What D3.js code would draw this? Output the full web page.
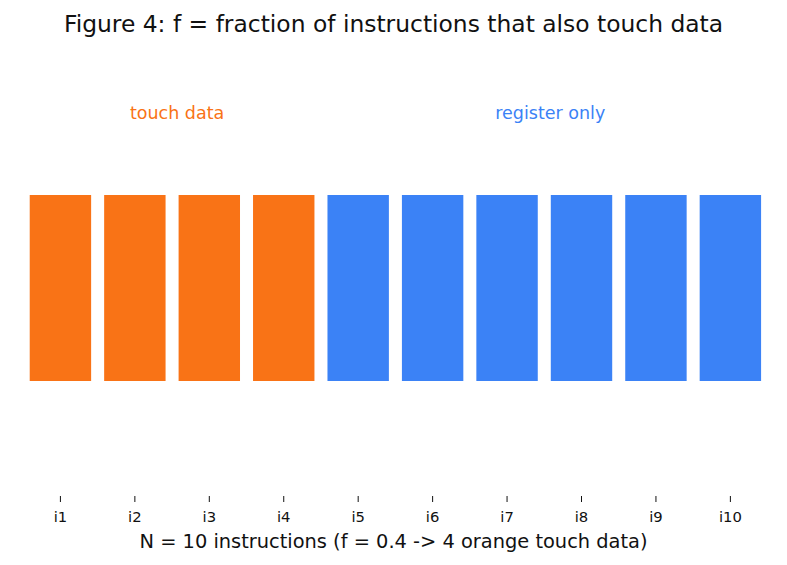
<!DOCTYPE html>
<html lang="en">
<head>
    <meta charset="UTF-8">
    <title>Figure 4</title>
    <script src="https://d3js.org/d3.v7.min.js"></script>
    <style>
        body {
            margin: 0;
            background: #fff;
            font-family: "DejaVu Sans", sans-serif;
        }
    </style>
</head>
<body>
    <div id="chart"></div>

    <script>
        // instructions and whether each one touches data
        const instructions = ["i1", "i2", "i3", "i4", "i5", "i6", "i7", "i8", "i9", "i10"];
        const touchesData = [1, 1, 1, 1, 0, 0, 0, 0, 0, 0];
        const groupLabels = ["touch data", "register only"];
        const fraction = 0.4;

        const width = 787;
        const height = 565;

        const orange = "#F97316";
        const blue = "#3B82F6";

        const svg = d3.select("#chart")
            .append("svg")
            .attr("width", width)
            .attr("height", height);

        // bar band: i1 centre ~60, i10 centre ~730
        const x = d3.scaleBand()
            .domain(instructions)
            .range([23.2, 767.6])
            .paddingInner(0.175)
            .paddingOuter(0.0875);

        const y = d3.scaleLinear()
            .domain([0, 1])
            .range([381, 195]);

        svg.append("text")
            .attr("x", width / 2)
            .attr("y", 32)
            .attr("text-anchor", "middle")
            .attr("font-size", 23.4)
            .attr("fill", "#111")
            .text("Figure 4: f = fraction of instructions that also touch data");

        const data = instructions.map((d, i) => ({ name: d, touch: touchesData[i] }));

        svg.append("g")
            .selectAll("rect")
            .data(data)
            .join("rect")
            .attr("x", d => x(d.name))
            .attr("width", x.bandwidth())
            .attr("y", y(1))
            .attr("height", y(0) - y(1))
            .attr("fill", d => d.touch ? orange : blue);

        // group labels centred over their bars
        const nTouch = d3.sum(touchesData);
        const centre = (a, b) => (x(instructions[a]) + x(instructions[b]) + x.bandwidth()) / 2;
        svg.append("text")
            .attr("x", centre(0, nTouch - 1) + 5)
            .attr("y", 119)
            .attr("text-anchor", "middle")
            .attr("font-size", 17.5)
            .attr("fill", orange)
            .text(groupLabels[0]);
        svg.append("text")
            .attr("x", centre(nTouch, instructions.length - 1) + 6)
            .attr("y", 119)
            .attr("text-anchor", "middle")
            .attr("font-size", 17.5)
            .attr("fill", blue)
            .text(groupLabels[1]);

        const axis = d3.axisBottom(x).tickSize(6).tickPadding(0);
        const gx = svg.append("g")
            .attr("transform", "translate(0,496)")
            .call(axis);
        gx.select(".domain").remove();
        gx.selectAll("line").attr("stroke", "#111");
        gx.selectAll("text")
            .attr("dy", null)
            .attr("y", 26)
            .attr("font-family", "DejaVu Sans, sans-serif")
            .attr("font-size", 14.8)
            .attr("fill", "#111");

        svg.append("text")
            .attr("x", width / 2)
            .attr("y", 548)
            .attr("text-anchor", "middle")
            .attr("font-size", 19.4)
            .attr("fill", "#111")
            .text(`N = ${instructions.length} instructions (f = ${fraction} -> ${nTouch} orange touch data)`);
    </script>
</body>
</html>
